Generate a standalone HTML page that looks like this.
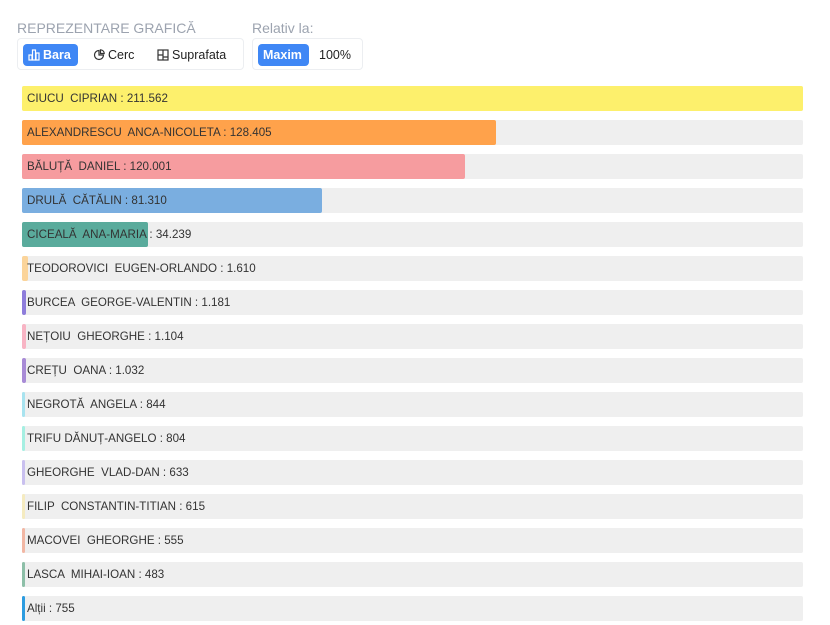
<!DOCTYPE html>
<html><head><meta charset="utf-8"><style>
body{margin:0;width:830px;height:625px;background:#fff;font-family:"Liberation Sans",sans-serif;position:relative;overflow:hidden}
.lbl{position:absolute;top:20px;font-size:14px;color:#9ca3af}
.grp{position:absolute;top:38px;height:32px;border:1px solid #eceef1;border-radius:4px;box-sizing:border-box}
.btn{position:absolute;top:5px;height:22px;line-height:22px;font-size:12.5px;color:#222;border-radius:4px;padding:0 5px;white-space:nowrap}
.btn svg{vertical-align:-2px;margin-right:3px}
.on{background:#3f87f5;color:#fff;font-weight:bold}
.row{position:absolute;left:22px;width:781px;height:25px;background:#efefef;border-radius:2px}
.bar{position:absolute;left:0;top:0;height:25px;border-radius:2px}
.t{position:absolute;left:5px;top:0;line-height:25px;font-size:11.6px;color:#333;white-space:pre}
</style></head><body>
<div class="lbl" style="left:17px">REPREZENTARE GRAFICĂ</div>
<div class="lbl" style="left:252px">Relativ la:</div>
<div class="grp" style="left:17px;width:227px">
<div class="btn on" style="left:5px;width:45px"><svg width="12" height="12" viewBox="0 0 12 12" fill="none" stroke="#fff" stroke-width="1.2"><rect x="1" y="6" width="3" height="5"/><rect x="4.5" y="1" width="3" height="10"/><rect x="8" y="4" width="3" height="7"/></svg>Bara</div>
<div class="btn" style="left:70px"><svg width="12" height="12" viewBox="0 0 12 12" fill="none" stroke="#333" stroke-width="1.2"><path d="M6 1.5A4.5 4.5 0 1 0 10.5 6H6z"/><path d="M7.5 0.8v3.7h3.7A3.7 3.7 0 0 0 7.5 0.8z"/></svg>Cerc</div>
<div class="btn" style="left:134px"><svg width="12" height="12" viewBox="0 0 12 12" fill="none" stroke="#333" stroke-width="1.2"><rect x="1" y="1" width="10" height="10"/><path d="M6 1v10M1 6h5M6 8h5"/></svg>Suprafata</div>
</div>
<div class="grp" style="left:252px;width:111px">
<div class="btn on" style="left:5px;width:41px">Maxim</div>
<div class="btn" style="left:61px">100%</div>
</div>
<div class="row" style="top:86px"><div class="bar" style="width:781px;background:#fdf06c"></div><div class="t">CIUCU  CIPRIAN : 211.562</div></div>
<div class="row" style="top:120px"><div class="bar" style="width:474px;background:#ffa24b"></div><div class="t">ALEXANDRESCU  ANCA-NICOLETA : 128.405</div></div>
<div class="row" style="top:154px"><div class="bar" style="width:443px;background:#f69c9f"></div><div class="t">BĂLUȚĂ  DANIEL : 120.001</div></div>
<div class="row" style="top:188px"><div class="bar" style="width:300px;background:#7aaee0"></div><div class="t">DRULĂ  CĂTĂLIN : 81.310</div></div>
<div class="row" style="top:222px"><div class="bar" style="width:126px;background:#5aab9c"></div><div class="t">CICEALĂ  ANA-MARIA : 34.239</div></div>
<div class="row" style="top:256px"><div class="bar" style="width:6px;background:#fbd49a"></div><div class="t">TEODOROVICI  EUGEN-ORLANDO : 1.610</div></div>
<div class="row" style="top:290px"><div class="bar" style="width:4px;background:#8e7ddb"></div><div class="t">BURCEA  GEORGE-VALENTIN : 1.181</div></div>
<div class="row" style="top:324px"><div class="bar" style="width:4px;background:#f8b4c4"></div><div class="t">NEȚOIU  GHEORGHE : 1.104</div></div>
<div class="row" style="top:358px"><div class="bar" style="width:4px;background:#a88bd6"></div><div class="t">CREȚU  OANA : 1.032</div></div>
<div class="row" style="top:392px"><div class="bar" style="width:3px;background:#a8e3ef"></div><div class="t">NEGROTĂ  ANGELA : 844</div></div>
<div class="row" style="top:426px"><div class="bar" style="width:3px;background:#a5efe2"></div><div class="t">TRIFU DĂNUȚ-ANGELO : 804</div></div>
<div class="row" style="top:460px"><div class="bar" style="width:3px;background:#c9c0ef"></div><div class="t">GHEORGHE  VLAD-DAN : 633</div></div>
<div class="row" style="top:494px"><div class="bar" style="width:3px;background:#f5ebc0"></div><div class="t">FILIP  CONSTANTIN-TITIAN : 615</div></div>
<div class="row" style="top:528px"><div class="bar" style="width:3px;background:#f2b7a4"></div><div class="t">MACOVEI  GHEORGHE : 555</div></div>
<div class="row" style="top:562px"><div class="bar" style="width:3px;background:#8dbfa8"></div><div class="t">LASCA  MIHAI-IOAN : 483</div></div>
<div class="row" style="top:596px"><div class="bar" style="width:3px;background:#2c9ce0"></div><div class="t">Alții : 755</div></div>
</body></html>
